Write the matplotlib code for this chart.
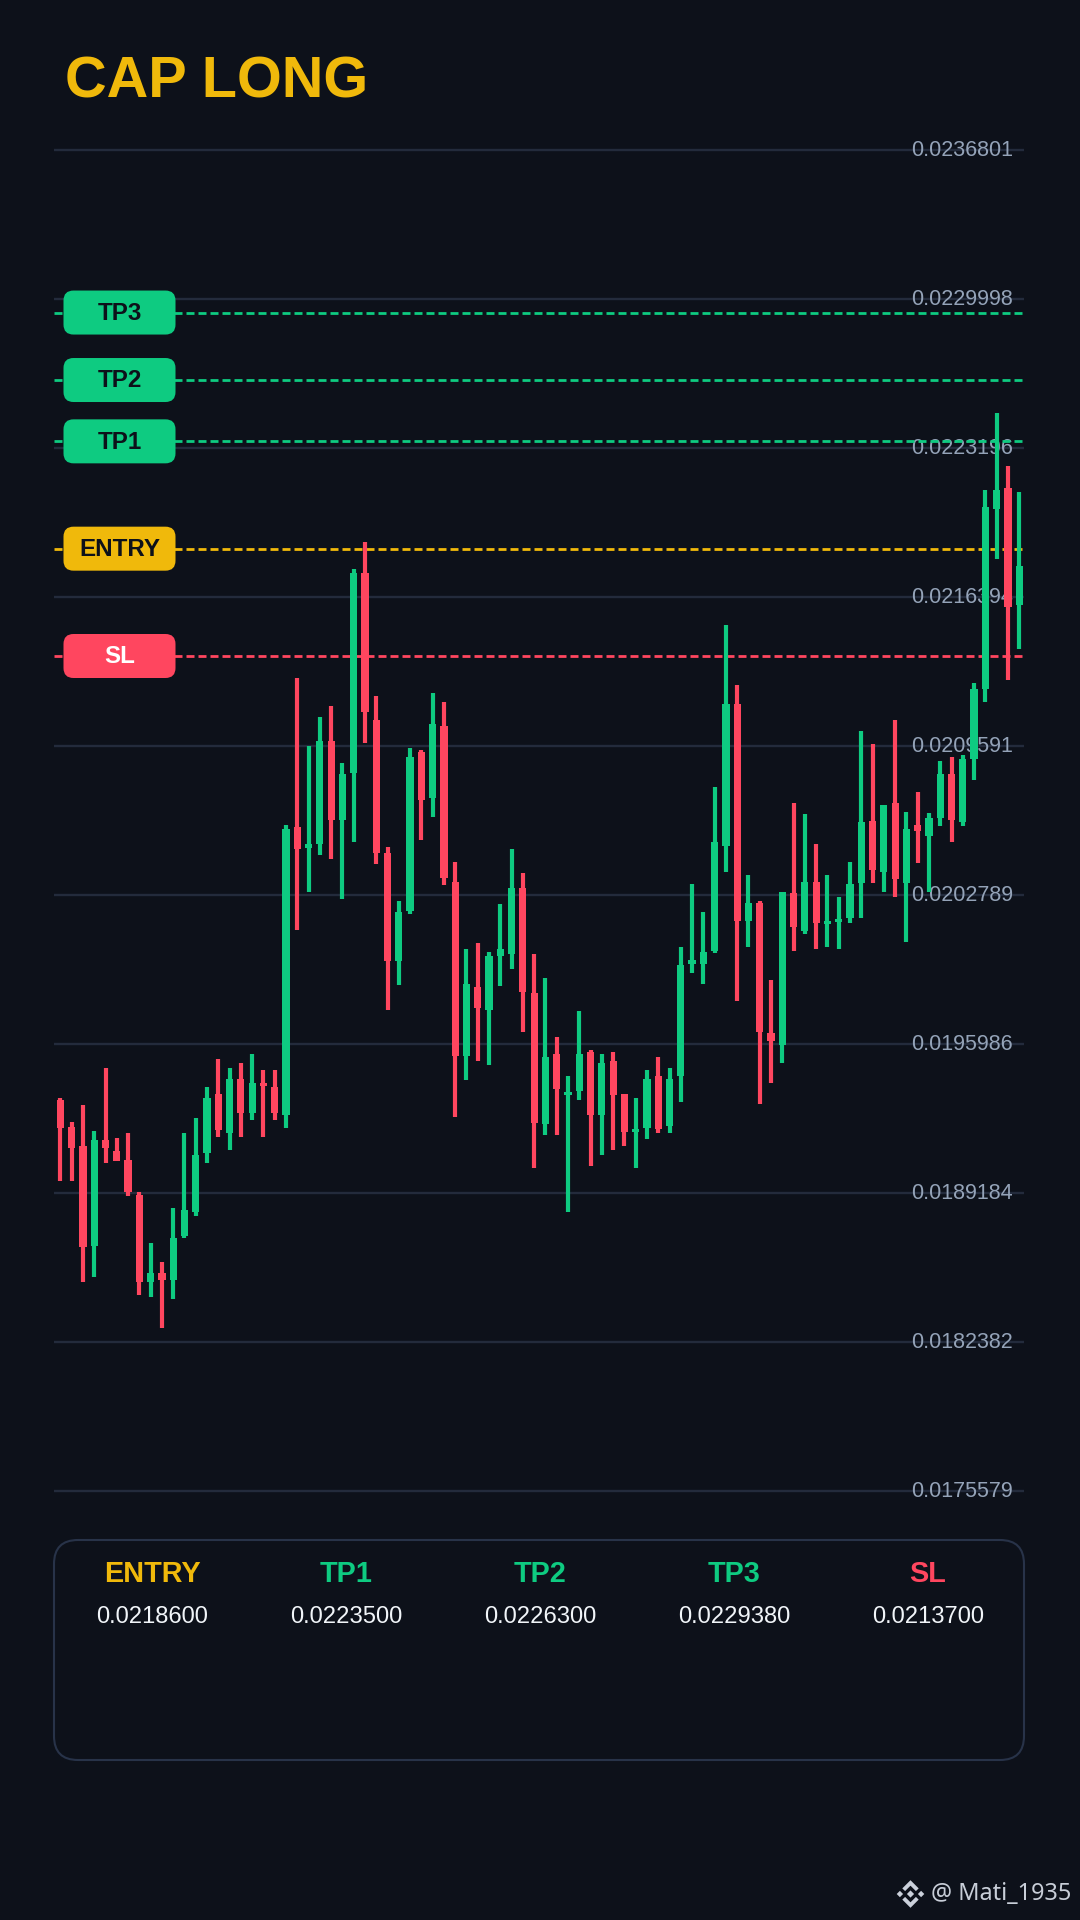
import matplotlib
matplotlib.use("Agg")
import matplotlib.pyplot as plt
from matplotlib.patches import FancyBboxPatch, Polygon
from matplotlib.transforms import ScaledTranslation
import numpy as np

plt.rcParams['font.family'] = ['Liberation Sans', 'DejaVu Sans']
plt.rcParams['lines.scale_dashes'] = False

BG = '#0D111A'
GREEN = '#0ECB81'
RED = '#FF465F'
GOLD = '#F0B90B'
GRID = '#232B3C'
TICKC = '#94A3B8'
BOX = '#283349'

title = 'CAP LONG'
tick_values = [0.0236801, 0.0229998, 0.0223196, 0.0216394, 0.0209591,
               0.0202789, 0.0195986, 0.0189184, 0.0182382, 0.0175579]
level_names = ['ENTRY', 'TP1', 'TP2', 'TP3', 'SL']
level_values = [0.0218600, 0.0223500, 0.0226300, 0.0229380, 0.0213700]
level_colors = [GOLD, GREEN, GREEN, GREEN, RED]
pill_text_colors = [BG, BG, BG, BG, '#FFFFFF']

# candle values, in millionths of the price
highs = [19350,19241,19320,19202,19490,19171,19191,18921,18692,18602,18851,19191,19261,19401,19530,19490,19510,19551,19480,19480,
         20600,21270,20959,21090,21140,20880,21769,21889,21189,20499,20250,20950,20941,21199,21160,20430,20031,20060,20020,20240,
         20490,20379,20009,19900,19631,19451,19751,19571,19551,19560,19370,19350,19480,19541,19490,20041,20329,20201,20770,21510,
         21239,20370,20250,19891,20291,20699,20650,20510,20370,20270,20430,21029,20970,20689,21079,20659,20748,20651,20890,20910,
         20919,21249,22129,22480,22238,22118]
body_tops = [19341,19221,19131,19160,19162,19112,19070,18911,18551,18551,18711,18842,19092,19350,19370,19440,19440,19421,19421,19401,
             20580,20589,20510,20980,20980,20830,21749,21749,21078,20471,20201,20909,20930,21060,21050,20340,19871,19860,20002,20031,
             20311,20311,19832,19541,19551,19381,19551,19560,19512,19521,19370,19212,19440,19451,19440,19961,19980,20020,20521,21149,
             21149,20241,20241,19649,20291,20289,20340,20340,20160,20169,20329,20610,20619,20689,20699,20580,20600,20631,20831,20831,
             20902,21221,22049,22129,22139,21779]
body_bottoms = [19215,19122,18672,18675,19122,19063,18921,18510,18514,18521,18521,18722,18833,19101,19204,19191,19282,19282,19405,19284,
                19273,20490,20492,20512,20623,20621,20834,21113,20471,19979,19979,20204,20714,20724,20355,19544,19545,19761,19752,20000,
                20011,19834,19236,19233,19393,19364,19385,19276,19273,19364,19195,19195,19213,19212,19222,19451,19965,19962,20025,20504,
                20162,20162,19653,19611,19594,20131,20113,20151,20146,20154,20172,20334,20394,20383,20350,20332,20569,20550,20631,20621,
                20613,20902,21221,22040,21593,21602]
lows = [18973,18973,18514,18533,19054,19063,18903,18454,18444,18304,18433,18711,18812,19054,19172,19113,19172,19253,19172,19253,
        19213,20118,20293,20462,20441,20262,20522,20973,20422,19755,19866,20192,20531,20633,20323,19264,19434,19523,19503,19862,
        19942,19652,19033,19183,19183,18833,19343,19043,19093,19113,19133,19033,19163,19192,19192,19332,19923,19873,20014,20382,
        19793,20043,19324,19419,19514,20023,20102,20032,20043,20034,20152,20172,20332,20294,20272,20066,20424,20293,20592,20522,
        20592,20802,21161,21812,21260,21402]
candle_up = [0,0,0,1,0,0,0,0,1,0,1,1,1,1,0,1,0,1,0,0,
             1,0,1,1,0,1,1,0,0,0,1,1,0,1,0,0,1,0,1,1,
             1,0,0,1,0,1,1,0,1,0,0,1,1,0,1,1,1,1,1,1,
             0,1,0,0,1,0,1,0,1,1,1,1,0,1,0,1,0,1,1,0,
             1,1,1,1,0,1]

W, H = 1080, 1920
fig = plt.figure(figsize=(W / 100, H / 100), dpi=100, facecolor=BG)

# price axes: ten levels 149 px apart
PPX = (tick_values[0] - tick_values[-1]) / (149 * 9)
FIRST = 150.0
top_px, bot_px, left_px, right_px = 140.0, 1502.0, 54.0, 1024.0
ax = fig.add_axes([left_px / W, 1 - bot_px / H, (right_px - left_px) / W, (bot_px - top_px) / H])
ax.set_facecolor('none')
ax.set_ylim(tick_values[0] - (bot_px - FIRST) * PPX, tick_values[0] + (FIRST - top_px) * PPX)
STEP = 11.28
ax.set_xlim((left_px - 60.4) / STEP, (right_px - 60.4) / STEP)
for s in ax.spines.values():
    s.set_visible(False)
ax.set_axisbelow(True)
ax.set_xticks([])
ax.yaxis.tick_right()
ax.set_yticks(tick_values)
ax.set_yticklabels([f'{v:.7f}' for v in tick_values], ha='right', fontsize=15.5, color=TICKC)
ax.tick_params(axis='y', length=0, direction='in', pad=-7.9)
nudge = ScaledTranslation(0, 2.4 / 100, fig.dpi_scale_trans)
for lab in ax.get_yticklabels():
    lab.set_transform(lab.get_transform() + nudge)
ax.yaxis.grid(True, color=GRID, linewidth=1.7)

for v, c in zip(level_values, level_colors):
    ax.axhline(v, color=c, linewidth=2.0, linestyle=(0, (5.76, 2.88)), zorder=2)

x = np.arange(len(highs))
scale = 1e-6
colors = [GREEN if u else RED for u in candle_up]
ax.vlines(x, np.array(lows) * scale, np.array(highs) * scale, colors=colors,
          linewidth=3.0, capstyle='butt', zorder=3)
ax.bar(x, (np.array(body_tops) - np.array(body_bottoms)) * scale,
       bottom=np.array(body_bottoms) * scale, width=7.2 / STEP, color=colors, linewidth=0, zorder=3.1)

# overlay in pixel coordinates for pills, panel, title and watermark
ov = fig.add_axes([0, 0, 1, 1], zorder=5)
ov.set_xlim(0, W)
ov.set_ylim(H, 0)
ov.axis('off')
ov.patch.set_alpha(0)

ov.text(65, 82, title, color=GOLD, fontsize=41.5, fontweight='bold', ha='left', va='center')


def y_px(v):
    return H - ax.transData.transform((0, v))[1]


for name, v, c, tc in zip(level_names, level_values, level_colors, pill_text_colors):
    yy = y_px(v)
    ov.add_patch(FancyBboxPatch((63.5 + 10, yy - 22 + 10), 112 - 20, 44 - 20,
                                boxstyle='round,pad=10,rounding_size=10', facecolor=c, edgecolor='none'))
    ov.text(119.5, yy + 0.8, name, color=tc, fontsize=17.4, fontweight='bold', ha='center', va='center')

ov.add_patch(FancyBboxPatch((54 + 24, 1540 + 24), 970 - 48, 220 - 48,
                            boxstyle='round,pad=24,rounding_size=24', facecolor='none', edgecolor=BOX, linewidth=1.5))
centers = [152, 346, 540, 734, 928]
for cx, name, v, c in zip(centers, level_names, level_values, level_colors):
    ov.text(cx, 1573.5, name, color=c, fontsize=20.8, fontweight='bold', ha='center', va='center')
    ov.text(cx, 1617, f'{v:.7f}', color='#F1F5F9', fontsize=17.1, ha='center', va='center')

# watermark logo
LOGO = '#CBD1DB'
cx, cy = 910.5, 1894
def diamond(dx, dy, r):
    return [(cx + dx, cy + dy - r), (cx + dx + r, cy + dy), (cx + dx, cy + dy + r), (cx + dx - r, cy + dy)]
for dx, dy, r in [(0, 0, 3.6), (-10.6, 0, 3.2), (10.6, 0, 3.2)]:
    ov.add_patch(Polygon(diamond(dx, dy, r), closed=True, facecolor=LOGO, edgecolor='none'))
for sgn in (-1, 1):
    ov.add_patch(Polygon([(cx, cy + sgn * 13.8), (cx + 8.2, cy + sgn * 5.6), (cx + 5.4, cy + sgn * 2.9),
                          (cx, cy + sgn * 8.3), (cx - 5.4, cy + sgn * 2.9), (cx - 8.2, cy + sgn * 5.6)],
                         closed=True, facecolor=LOGO, edgecolor='none'))
ov.text(1071, 1894.5, '@ Mati_1935', color='#C8CED8', fontsize=16.9, family=['Noto Sans', 'DejaVu Sans'],
        ha='right', va='center')

fig.savefig('out.png', dpi=100, facecolor=BG)
